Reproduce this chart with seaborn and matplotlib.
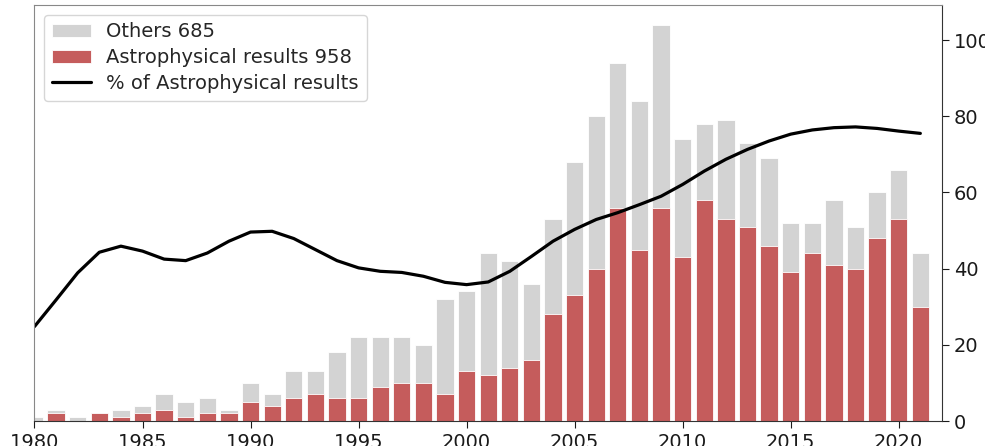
import matplotlib
matplotlib.use("Agg")
import matplotlib.pyplot as plt
import seaborn as sns
import pandas as pd
import numpy as np

# ── data ──
years = list(range(1980, 2022))
total_papers = [1, 3, 1, 2, 3, 4, 7, 5, 6, 3,
                10, 7, 13, 13, 18, 22, 22, 22, 20, 32,
                34, 44, 42, 36, 53, 68, 80, 94, 84, 104,
                74, 78, 79, 73, 69, 52, 52, 58, 51, 60,
                66, 44]
astro_papers = [0, 2, 0, 2, 1, 2, 3, 1, 2, 2,
                5, 4, 6, 7, 6, 6, 9, 10, 10, 7,
                13, 12, 14, 16, 28, 33, 40, 56, 45, 56,
                43, 58, 53, 51, 46, 39, 44, 41, 40, 48,
                53, 30]
astro_pct = [24.8, 31.8, 38.9, 44.3, 45.9, 44.6, 42.5, 42.1, 44.1, 47.2,
             49.6, 49.8, 47.9, 45.0, 42.1, 40.2, 39.3, 39.0, 38.0, 36.4,
             35.8, 36.5, 39.3, 43.2, 47.2, 50.3, 52.9, 54.7, 56.8, 59.0,
             62.1, 65.6, 68.7, 71.3, 73.5, 75.3, 76.4, 77.0, 77.2, 76.8,
             76.1, 75.5]

label_others = "Others 685"
label_astro = "Astrophysical results 958"
label_pct = "% of Astrophysical results"

df = pd.DataFrame({"year": years, "total": total_papers,
                   "astro": astro_papers, "pct": astro_pct})

sns.set_style("ticks")
plt.rcParams["font.family"] = ["DejaVu Sans"]

fig, ax = plt.subplots(figsize=(9.85, 4.46), dpi=100)

sns.barplot(data=df, x="year", y="total", native_scale=True, color="#d3d3d3",
            saturation=1, width=0.8, errorbar=None, edgecolor="white",
            linewidth=0.6, label=label_others, ax=ax)
sns.barplot(data=df, x="year", y="astro", native_scale=True, color="#c55c5c",
            saturation=1, width=0.8, errorbar=None, edgecolor="white",
            linewidth=0.6, label=label_astro, ax=ax)
sns.lineplot(data=df, x="year", y="pct", color="black", lw=2.3,
             label=label_pct, ax=ax)

ax.set_xlim(1980, 2022)
ax.set_ylim(0, 109.2)
ax.set_xticks(range(1980, 2021, 5))
ax.set_yticks(range(0, 101, 20))
ax.yaxis.tick_right()
ax.set_xlabel("")
ax.set_ylabel("")
ax.tick_params(labelsize=14, colors="#1a1a1a", length=5)

for side in ["top", "left"]:
    ax.spines[side].set_visible(True)
    ax.spines[side].set_color("#888888")
for side in ["right", "bottom"]:
    ax.spines[side].set_visible(True)
    ax.spines[side].set_color("#333333")

# bars first, then the line, as in the reference legend
handles, labels = ax.get_legend_handles_labels()
order = [labels.index(label_others), labels.index(label_astro), labels.index(label_pct)]
ax.legend([handles[i] for i in order], [labels[i] for i in order],
          loc="upper left", fontsize=14, frameon=True, borderpad=0.4,
          labelspacing=0.35, handlelength=2.0)

fig.subplots_adjust(left=0.035, right=0.9563, top=0.9888, bottom=0.056)
plt.savefig("out.png", dpi=100)
plt.close()
